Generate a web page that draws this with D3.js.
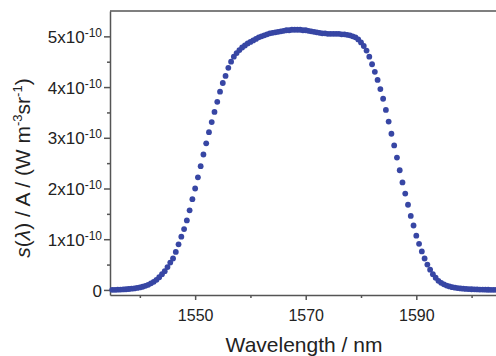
<!DOCTYPE html>
<html>
<head>
    <title>Spectral radiance vs wavelength</title>
    <script src="https://d3js.org/d3.v7.min.js"></script>
    <style>
        body { margin: 0; background: #fff; }
        text { font-family: "Liberation Sans", Arial, sans-serif; fill: #222; }
    </style>
</head>
<body>
    <script>
        // wavelength samples (nm), every 0.5 nm
        var wavelength = [
            1535, 1535.5, 1536, 1536.5, 1537, 1537.5, 1538, 1538.5, 1539, 1539.5,
            1540, 1540.5, 1541, 1541.5, 1542, 1542.5, 1543, 1543.5, 1544, 1544.5,
            1545, 1545.5, 1546, 1546.5, 1547, 1547.5, 1548, 1548.5, 1549, 1549.5,
            1550, 1550.5, 1551, 1551.5, 1552, 1552.5, 1553, 1553.5, 1554, 1554.5,
            1555, 1555.5, 1556, 1556.5, 1557, 1557.5, 1558, 1558.5, 1559, 1559.5,
            1560, 1560.5, 1561, 1561.5, 1562, 1562.5, 1563, 1563.5, 1564, 1564.5,
            1565, 1565.5, 1566, 1566.5, 1567, 1567.5, 1568, 1568.5, 1569, 1569.5,
            1570, 1570.5, 1571, 1571.5, 1572, 1572.5, 1573, 1573.5, 1574, 1574.5,
            1575, 1575.5, 1576, 1576.5, 1577, 1577.5, 1578, 1578.5, 1579, 1579.5,
            1580, 1580.5, 1581, 1581.5, 1582, 1582.5, 1583, 1583.5, 1584, 1584.5,
            1585, 1585.5, 1586, 1586.5, 1587, 1587.5, 1588, 1588.5, 1589, 1589.5,
            1590, 1590.5, 1591, 1591.5, 1592, 1592.5, 1593, 1593.5, 1594, 1594.5,
            1595, 1595.5, 1596, 1596.5, 1597, 1597.5, 1598, 1598.5, 1599, 1599.5,
            1600, 1600.5, 1601, 1601.5, 1602, 1602.5, 1603, 1603.5, 1604, 1604.5,
            1605
        ];

        // s(lambda)/A in units of 1e-10 W m^-3 sr^-1
        var signalE10 = [
            0.002, 0.003, 0.005, 0.007, 0.010, 0.013, 0.018, 0.024, 0.030, 0.040,
            0.050, 0.063, 0.080, 0.100, 0.130, 0.160, 0.200, 0.250, 0.310, 0.370,
            0.45, 0.54, 0.62, 0.75, 0.90, 1.05, 1.20, 1.37, 1.57, 1.79,
            2.00, 2.22, 2.44, 2.67, 2.89, 3.11, 3.31, 3.51, 3.71, 3.91,
            4.08, 4.22, 4.38, 4.50, 4.60, 4.67, 4.73, 4.78, 4.82, 4.86,
            4.89, 4.92, 4.95, 4.98, 5.00, 5.02, 5.04, 5.06, 5.07, 5.08,
            5.09, 5.10, 5.11, 5.12, 5.12, 5.13, 5.13, 5.13, 5.13, 5.12,
            5.12, 5.11, 5.10, 5.09, 5.08, 5.07, 5.06, 5.06, 5.05, 5.05,
            5.05, 5.05, 5.05, 5.04, 5.04, 5.03, 5.02, 5.00, 4.98, 4.94,
            4.88, 4.81, 4.72, 4.60, 4.45, 4.30, 4.14, 3.96, 3.77, 3.55,
            3.32, 3.08, 2.85, 2.61, 2.36, 2.12, 1.90, 1.68, 1.46, 1.27,
            1.07, 0.91, 0.76, 0.62, 0.50, 0.40, 0.31, 0.24, 0.18, 0.14,
            0.11, 0.085, 0.070, 0.055, 0.045, 0.037, 0.030, 0.025, 0.020, 0.016,
            0.013, 0.011, 0.009, 0.007, 0.006, 0.005, 0.004, 0.003, 0.003, 0.002,
            0.002
        ];

        var xMajorTicks = [1550, 1570, 1590];
        var xMinorTicks = [1540, 1560, 1580, 1600];
        var yMajorTicks = [0, 1, 2, 3, 4, 5];
        var yMinorTicks = [0.5, 1.5, 2.5, 3.5, 4.5];

        var width = 496, height = 356;
        var plotLeft = 110, plotTop = 11, plotBottom = 295, plotRight = 502;
        var axisColor = "#555";
        var dotColor = "#3746a4";

        var svg = d3.select("body")
            .append("svg")
            .attr("width", width)
            .attr("height", height);

        var x = d3.scaleLinear().domain([1534.6, 1605.5]).range([plotLeft, plotRight]);
        var y = d3.scaleLinear().domain([-0.1, 5.5]).range([plotBottom, plotTop]);

        // frame top line (right side is cropped off)
        svg.append("line")
            .attr("x1", plotLeft).attr("x2", width)
            .attr("y1", plotTop).attr("y2", plotTop)
            .attr("stroke", axisColor).attr("stroke-width", 1.5);

        // x axis
        var xAxis = svg.append("g")
            .attr("transform", "translate(0," + plotBottom + ")")
            .call(d3.axisBottom(x).tickValues(xMajorTicks).tickSize(5).tickSizeOuter(0).tickPadding(10).tickFormat(d3.format("d")));
        svg.append("g")
            .attr("transform", "translate(0," + plotBottom + ")")
            .call(d3.axisBottom(x).tickValues(xMinorTicks).tickSize(3).tickSizeOuter(0).tickFormat(""))
            .select(".domain").remove();

        // y axis
        var yAxis = svg.append("g")
            .attr("transform", "translate(" + plotLeft + ",0)")
            .call(d3.axisLeft(y).tickValues(yMajorTicks).tickSize(6).tickSizeOuter(0).tickPadding(8).tickFormat(""));
        svg.append("g")
            .attr("transform", "translate(" + plotLeft + ",0)")
            .call(d3.axisLeft(y).tickValues(yMinorTicks).tickSize(3).tickSizeOuter(0).tickFormat(""))
            .select(".domain").remove();

        svg.selectAll(".domain, .tick line")
            .attr("stroke", axisColor)
            .attr("stroke-width", 1.5);

        xAxis.selectAll(".tick text")
            .style("font-size", "16px")
            .attr("fill", "#222");

        // y tick labels with superscript exponent
        yAxis.selectAll(".tick").each(function(d) {
            var t = d3.select(this).select("text")
                .attr("x", -8)
                .attr("dy", "0.36em")
                .attr("text-anchor", "end")
                .style("font-size", "17px")
                .attr("fill", "#222");
            if (d === 0) {
                t.text("0");
            } else {
                t.append("tspan").text(d + "x10");
                t.append("tspan").attr("dy", -6).style("font-size", "12px").text("-10");
            }
        });

        // data points
        var points = wavelength.map(function(w, i) { return {w: w, s: signalE10[i]}; });
        svg.append("g")
            .selectAll("circle")
            .data(points)
            .enter().append("circle")
            .attr("cx", function(d) { return x(d.w); })
            .attr("cy", function(d) { return y(d.s); })
            .attr("r", 2.9)
            .attr("fill", dotColor);

        // axis titles
        svg.append("text")
            .attr("x", 304)
            .attr("y", 352)
            .attr("text-anchor", "middle")
            .style("font-size", "21px")
            .text("Wavelength / nm");

        var yTitle = svg.append("text")
            .attr("transform", "translate(30,168) rotate(-90)")
            .attr("text-anchor", "middle")
            .style("font-size", "21px");
        yTitle.append("tspan").style("font-style", "italic").text("s");
        yTitle.append("tspan").text("(");
        yTitle.append("tspan").style("font-style", "italic").text("\u03bb");
        yTitle.append("tspan").text(") / A / (W m");
        yTitle.append("tspan").attr("dy", -8).style("font-size", "13px").text("-3");
        yTitle.append("tspan").attr("dy", 8).text("sr");
        yTitle.append("tspan").attr("dy", -8).style("font-size", "13px").text("-1");
        yTitle.append("tspan").attr("dy", 8).text(")");
    </script>
</body>
</html>
